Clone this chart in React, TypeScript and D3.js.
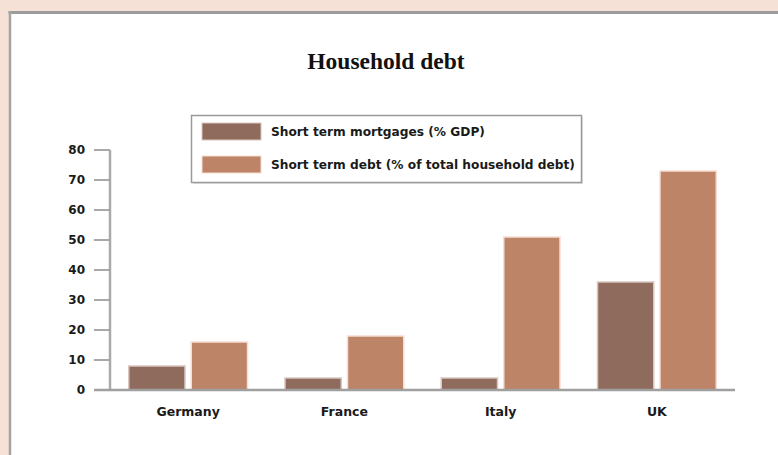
import React from "react";
import * as d3 from "d3";

// Household debt by country, two measures
const countries = ["Germany", "France", "Italy", "UK"];
const seriesNames = [
  "Short term mortgages (% GDP)",
  "Short term debt (% of total household debt)",
];
const mortgages = [8, 4, 4, 36];
const shortTermDebt = [16, 18, 51, 73];
const yTicks = [0, 10, 20, 30, 40, 50, 60, 70, 80];

const W = 778;
const H = 455;
const colors = ["#8e6b5d", "#bd8468"];
const edges = ["#d9c6be", "#f7ddd2"];
const sans = "'DejaVu Sans', Verdana, sans-serif";

export default function App() {
  const x = d3
    .scaleBand<string>()
    .domain(countries)
    .range([110, 735])
    .paddingInner(0.24)
    .paddingOuter(0.12);
  const xs = d3
    .scaleBand<number>()
    .domain([0, 1])
    .range([0, x.bandwidth()])
    .paddingInner(0.1);
  const y = d3.scaleLinear().domain([0, 80]).range([390, 150]);

  const values = [mortgages, shortTermDebt];

  return (
    <svg
      width={W}
      height={H}
      style={{ position: "absolute", left: 0, top: 0, display: "block" }}
    >
      <rect x={0} y={0} width={W} height={H} fill="#f5e1d6" />
      <rect x={10} y={12} width={W} height={H} fill="#ffffff" />
      <line x1={8.5} y1={12.5} x2={W} y2={12.5} stroke="#9c9c9c" strokeWidth={3} />
      <line x1={10} y1={11} x2={10} y2={H} stroke="#a4a4a4" strokeWidth={2.5} />

      <text
        x={386}
        y={69}
        textAnchor="middle"
        fontFamily="'Liberation Serif', 'Times New Roman', serif"
        fontWeight="bold"
        fontSize={23.5}
        fill="#111"
      >
        Household debt
      </text>

      {/* y axis */}
      <line x1={110} y1={150} x2={110} y2={391} stroke="#aaaaaa" strokeWidth={2.5} />
      {yTicks.map((t) => (
        <g key={t}>
          <line x1={94} y1={y(t)} x2={110} y2={y(t)} stroke="#a0a0a0" strokeWidth={1.8} />
          <text
            x={85}
            y={y(t)}
            dy="0.35em"
            textAnchor="end"
            fontFamily={sans}
            fontWeight="bold"
            fontSize={12}
            fill="#1a1a1a"
          >
            {t}
          </text>
        </g>
      ))}

      {/* bars */}
      {countries.map((c, i) => (
        <g key={c} transform={`translate(${x(c)},0)`}>
          {values.map((v, s) => (
            <rect
              key={s}
              x={xs(s)}
              y={y(v[i])}
              width={xs.bandwidth()}
              height={390 - y(v[i])}
              fill={colors[s]}
              stroke={edges[s]}
              strokeWidth={1.5}
            />
          ))}
          <text
            x={x.bandwidth() / 2}
            y={412}
            dy="0.35em"
            textAnchor="middle"
            fontFamily={sans}
            fontWeight="bold"
            fontSize={12.5}
            fill="#1a1a1a"
          >
            {c}
          </text>
        </g>
      ))}

      {/* x axis */}
      <line x1={94} y1={390} x2={735} y2={390} stroke="#a0a0a0" strokeWidth={2.5} />

      {/* legend */}
      <rect x={193} y={117} width={390} height={67} fill="#e4e4e4" />
      <rect x={191.5} y={115.5} width={390} height={67} fill="#ffffff" stroke="#9a9a9a" strokeWidth={1.5} />
      {seriesNames.map((name, s) => (
        <g key={name} transform={`translate(0,${s * 33})`}>
          <rect x={202} y={123} width={59} height={17} fill={colors[s]} stroke={edges[s]} strokeWidth={1} />
          <text
            x={271}
            y={131.5}
            dy="0.35em"
            fontFamily={sans}
            fontWeight="bold"
            fontSize={12.2}
            fill="#1a1a1a"
          >
            {name}
          </text>
        </g>
      ))}
    </svg>
  );
}
